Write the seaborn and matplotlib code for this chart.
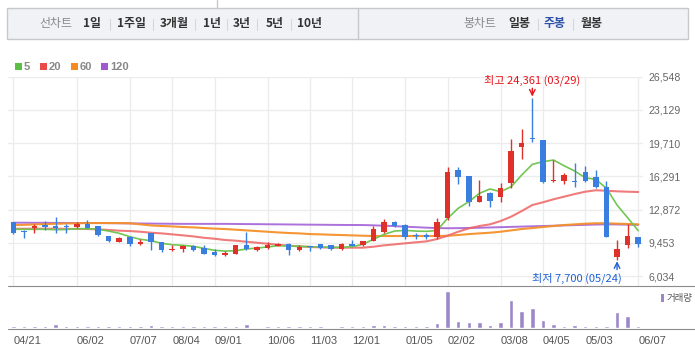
import matplotlib
matplotlib.use("Agg")
import matplotlib.pyplot as plt
import seaborn as sns
import numpy as np
import pandas as pd
from matplotlib.patches import Rectangle
from matplotlib.lines import Line2D

# ---------------- data ----------------
week_dates = pd.date_range("2023-04-21", periods=60, freq="7D").strftime("%m/%d").tolist()

opens = [11591, 10600, 10936, 11317, 11214, 11110, 11077, 11420, 11180, 10150,
         9560, 10010, 9323, 10490, 9530, 8740, 8810, 9120, 8910, 8500,
         8230, 8330, 9220, 8670, 8880, 9157, 9357, 8740, 9085, 9290,
         9187, 8810, 9357, 9187, 9666, 10560, 11590, 11280, 10250, 10250,
         10100, 11970, 16940, 16300, 13700, 14600, 14200, 15640, 19275, 20270,
         20030, 15840, 15770, 15770, 16700, 16250, 15200, 8020, 9220, 10045]
highs = [11600, 10730, 11420, 11694, 12105, 11420, 11555, 11830, 11200, 10150,
         10080, 10150, 9840, 10490, 9530, 9220, 9220, 9190, 9220, 8780,
         8636, 9220, 10560, 9120, 9500, 9460, 9460, 9187, 9085, 9357,
         9187, 9460, 9740, 9600, 11180, 11900, 11730, 11385, 10490, 10456,
         11990, 17280, 17280, 16300, 15910, 14710, 15570, 20130, 21170, 24361,
         20030, 17970, 16600, 17690, 17380, 16910, 15810, 9740, 11350, 10045]
lows = [10390, 9970, 10490, 10800, 10490, 10490, 10970, 10940, 10200, 9560,
        9560, 9150, 9220, 8740, 8530, 8636, 8530, 8636, 8300, 8090,
        8125, 8330, 8700, 8600, 8810, 9085, 8195, 8636, 8636, 8810,
        8700, 8700, 9085, 9120, 9600, 10456, 11110, 9870, 9870, 9800,
        9840, 11800, 15530, 13240, 13660, 13164, 13660, 15060, 18110, 19860,
        15600, 15670, 15530, 15190, 15670, 15120, 10050, 7700, 8950, 9050]
closes = [10490, 10560, 11180, 11077, 10970, 11040, 11420, 11010, 10216, 9666,
          9975, 9357, 9563, 9560, 8740, 8810, 9150, 8700, 8330, 8195,
          8440, 9220, 8810, 9050, 9255, 9357, 8740, 9050, 9050, 8880,
          8810, 9323, 9150, 9600, 10870, 11590, 11214, 10080, 10150, 10010,
          11580, 16700, 16250, 13660, 14270, 13780, 15060, 18900, 19720, 20170,
          15670, 15940, 16430, 15700, 15840, 15190, 10080, 8810, 10150, 9357]
volume = [7, 7, 7, 7, 13, 7, 5, 7, 7, 7,
          5, 5, 5, 10, 7, 5, 5, 5, 5, 5,
          5, 7, 13, 0, 5, 5, 5, 5, 5, 5,
          0, 5, 5, 5, 10, 10, 5, 7, 5, 5,
          16, 110, 22, 19, 19, 10, 19, 85, 52, 61,
          25, 13, 7, 10, 7, 7, 7, 49, 37, 7]
ma5 = [10840, 10840, 10840, 10840, 10800, 10820, 10900, 10900, 10840, 10660,
       10430, 10080, 9810, 9670, 9400, 9255, 9190, 9090, 8880, 8680,
       8600, 8640, 8810, 8915, 9020, 9150, 9120, 9090, 9050, 9020,
       8985, 8985, 9050, 9300, 9810, 10320, 10660, 10730, 10660, 10630,
       10720, 11970, 13000, 13680, 14540, 14990, 14710, 15220, 16430, 17530,
       17800, 17970, 17380, 16840, 16150, 15980, 15060, 13340, 12030, 10700]
ma20 = [10900, 10900, 10900, 10900, 10900, 10890, 10880, 10870, 10840, 10770,
        10700, 10660, 10590, 10490, 10420, 10320, 10220, 10110, 9970, 9870,
        9740, 9670, 9560, 9460, 9357, 9255, 9150, 9085, 9020, 8985,
        8950, 8950, 8950, 8950, 9050, 9190, 9290, 9400, 9500, 9600,
        9840, 10180, 10590, 10940, 11180, 11350, 11690, 12140, 12720, 13340,
        13620, 13930, 14200, 14470, 14710, 14860, 14810, 14750, 14710, 14680]
ma60 = [11270, 11300, 11340, 11380, 11410, 11440, 11460, 11480, 11490, 11490,
        11480, 11460, 11350, 11240, 11180, 11140, 11077, 11040, 10970, 10910,
        10870, 10800, 10730, 10660, 10590, 10520, 10460, 10420, 10350, 10320,
        10280, 10250, 10215, 10180, 10150, 10150, 10150, 10150, 10150, 10150,
        10150, 10180, 10250, 10350, 10420, 10490, 10590, 10730, 10870, 10970,
        11077, 11180, 11280, 11350, 11420, 11460, 11460, 11420, 11390, 11350]
ma120 = [11520, 11520, 11510, 11510, 11500, 11500, 11490, 11490, 11480, 11470,
         11460, 11450, 11440, 11430, 11420, 11410, 11400, 11400, 11400, 11400,
         11400, 11390, 11380, 11370, 11360, 11350, 11340, 11330, 11320, 11310,
         11300, 11290, 11285, 11280, 11250, 11210, 11170, 11110, 11060, 11010,
         10970, 10950, 10960, 10980, 11000, 11030, 11060, 11090, 11120, 11150,
         11180, 11210, 11240, 11270, 11300, 11330, 11350, 11340, 11320, 11300]
price_ticks = [6034, 9453, 12872, 16291, 19710, 23129, 26548]
tick_labels = ["04/21", "06/02", "07/07", "08/04", "09/01", "10/06", "11/03",
               "12/01", "01/05", "02/02", "03/08", "04/05", "05/03", "06/07"]
ma_names = ["5", "20", "60", "120"]

# ---------------- style ----------------
sns.set_style("white")
plt.rcParams["font.family"] = ["Noto Sans CJK KR", "DejaVu Sans"]

UP = "#e0302a"
DOWN = "#3a7fe0"
MA_COLORS = ["#72c653", "#ee6464", "#f5902a", "#a362d6"]
VOL_COLOR = "#9c88c8"
GRID = "#ececec"

W, H = 695, 352
fig = plt.figure(figsize=(W / 100, H / 100), dpi=100)
fig.patch.set_facecolor("white")

def box(l, t, r, b):
    return [l / W, 1 - b / H, (r - l) / W, (b - t) / H]

ax = fig.add_axes(box(8, 76.5, 643, 285.7))
axv = fig.add_axes(box(8, 287, 643, 328))

x = np.arange(len(opens))
o = np.array(opens); c = np.array(closes); hi = np.array(highs); lo = np.array(lows)
cols = [UP if cc >= oo else DOWN for oo, cc in zip(o, c)]

# moving averages
for arr, col, lw, al in [(ma120, MA_COLORS[3], 1.4, 0.9), (ma60, MA_COLORS[2], 1.5, 0.95),
                         (ma20, MA_COLORS[1], 1.5, 0.85), (ma5, MA_COLORS[0], 1.2, 1.0)]:
    sns.lineplot(x=x, y=arr, ax=ax, color=col, lw=lw, alpha=al, sort=False, zorder=2)

# candles
ax.vlines(x, lo, hi, colors=cols, lw=1.0, zorder=3)
body_lo = np.minimum(o, c)
body_h = np.maximum(np.abs(c - o), 120)
ax.bar(x, body_h, bottom=body_lo, width=0.52, color=cols, zorder=4, linewidth=0)

ax.set_xlim(-0.5, 59.45)
ax.set_ylim(5036, 26569)
tick_pos = [week_dates.index(t) for t in tick_labels]
ax.set_xticks(tick_pos)
ax.set_xticklabels([])
ax.set_yticks(price_ticks)
ax.set_yticklabels([f"{v:,}" for v in price_ticks], family="Liberation Sans",
                   fontsize=7.6, color="#666666")
ax.yaxis.tick_right()
ax.tick_params(axis="both", length=0, pad=4)
ax.grid(True, color=GRID, lw=1)
ax.set_axisbelow(True)
for s in ax.spines.values():
    s.set_visible(False)
ax.set_xlabel(""); ax.set_ylabel("")

# high / low annotations
ih = int(np.argmax(hi)); il = int(np.argmin(lo))
ax.annotate("", xy=(x[ih], hi[ih]), xytext=(0, 7), textcoords="offset points",
            arrowprops=dict(arrowstyle="->", color="#e8141c", lw=1.0, shrinkA=0, shrinkB=1))
ax.annotate(f"최고 {hi[ih]:,} ({week_dates[ih]})", xy=(x[ih], hi[ih]), xytext=(0, 13),
            textcoords="offset points", ha="center", va="center", fontsize=8,
            color="#e8141c", annotation_clip=False)
ax.annotate("", xy=(x[il], lo[il]), xytext=(0, -7), textcoords="offset points",
            arrowprops=dict(arrowstyle="->", color="#1f62d8", lw=1.0, shrinkA=0, shrinkB=1))
ax.annotate(f"최저 {lo[il]:,} ({week_dates[il]})", xy=(x[il], lo[il]), xytext=(3.5, -13),
            textcoords="offset points", ha="right", va="center", fontsize=8,
            color="#1f62d8", annotation_clip=False)

# volume
sns.barplot(x=x, y=volume, ax=axv, native_scale=True, color=VOL_COLOR, width=0.42,
            saturation=1, errorbar=None, zorder=2)
axv.set_xlim(-0.5, 59.45)
axv.set_ylim(0, 123)
axv.set_yticks([])
axv.set_xticks(tick_pos)
axv.set_xticklabels(tick_labels, family="Liberation Sans", fontsize=8, color="#555555")
for t in axv.get_xticklabels():
    t.set_ha("left")
axv.tick_params(axis="x", length=3.5, width=0.8, color="#9a9a9a", pad=2.0)
for s in axv.spines.values():
    s.set_visible(False)
axv.set_xlabel(""); axv.set_ylabel("")

# ---------------- overlay (toolbar, legends, dividers) ----------------
ov = fig.add_axes([0, 0, 1, 1], zorder=10)
ov.set_xlim(0, W); ov.set_ylim(H, 0); ov.axis("off")
ov.patch.set_alpha(0)

ov.add_patch(Rectangle((7, 7.5), 681, 31.5, facecolor="#f1f2f6", edgecolor="#c6c8cc", lw=1))
ov.add_line(Line2D([358, 358], [7.5, 39], color="#c6c8cc", lw=1))
ov.add_line(Line2D([217, 217], [0, 7.5], color="#c6c8cc", lw=1))

left_items = ["1일", "1주일", "3개월", "1년", "3년", "5년", "10년"]
left_cx = [92.5, 131.5, 174.5, 211.5, 241.5, 274.5, 310]
seps_l = [110, 153, 195, 227, 257, 291]
TB = 8.6
ov.text(56.3, 24, "선차트", ha="center", va="center", fontsize=TB, color="#8a8a8a")
for t, cx in zip(left_items, left_cx):
    ov.text(cx, 24, t, ha="center", va="center", fontsize=TB, color="#333333", weight="bold")
for sx in seps_l + [538, 573]:
    ov.add_line(Line2D([sx, sx], [19, 30], color="#d5d7db", lw=0.8))
ov.text(479.5, 24, "봉차트", ha="center", va="center", fontsize=TB, color="#8a8a8a")
ov.text(519.5, 24, "일봉", ha="center", va="center", fontsize=TB, color="#333333", weight="bold")
ov.text(554.5, 24, "주봉", ha="center", va="center", fontsize=TB, color="#2d52a8", weight="bold")
ov.text(591.5, 24, "월봉", ha="center", va="center", fontsize=TB, color="#333333", weight="bold")

# MA legend
sq_x = [15, 40, 71, 101]
for name, col, sx in zip(ma_names, ["#5bbf45", "#ea4a4a", "#f58a1f", "#a05ad0"], sq_x):
    ov.add_patch(Rectangle((sx, 63), 6.5, 7, facecolor=col, edgecolor="none"))
    ov.text(sx + 9, 66.8, name, ha="left", va="center", fontsize=8,
            family="Liberation Sans", weight="bold", color="#888888")

# volume legend
ov.add_patch(Rectangle((660.7, 294), 3.3, 8, facecolor=VOL_COLOR, edgecolor="none"))
ov.text(666.5, 298, "거래량", ha="left", va="center", fontsize=6.8, color="#555555")

# divider lines
ov.add_line(Line2D([8, 695], [286, 286], color="#8c8c8c", lw=0.8))
ov.add_line(Line2D([8, 695], [328.5, 328.5], color="#8c8c8c", lw=0.8))

fig.savefig("out.png", dpi=100, facecolor="white")
